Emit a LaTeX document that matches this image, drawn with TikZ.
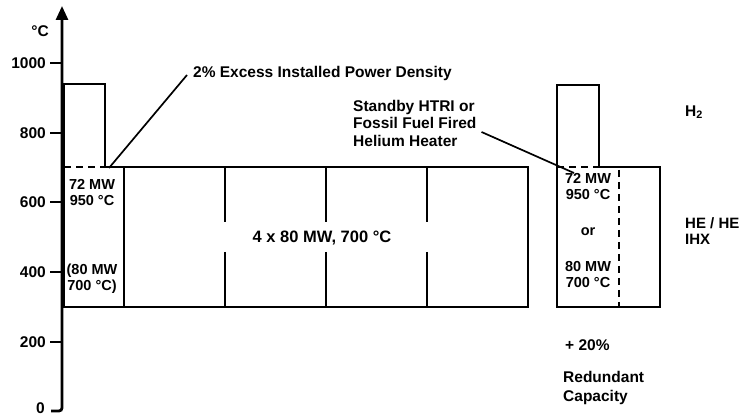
\documentclass[tikz,border=0pt]{standalone}
\usepackage{fontspec}
\setmainfont{Liberation Sans}
\usetikzlibrary{arrows.meta}
\begin{document}
\begin{tikzpicture}[x=1pt,y=-1pt,
  line/.style={line width=2.6pt},
  dline/.style={line width=2.6pt, dash pattern=on 7pt off 5pt},
  lbl/.style={font=\fontsize{15.5}{17.5}\selectfont\bfseries, inner sep=0pt},
  cell/.style={font=\fontsize{14.5}{16}\selectfont\bfseries, inner sep=0pt, align=center},
  lead/.style={line width=1.7pt}]
\useasboundingbox (0,0) rectangle (741,419);

% axis
\draw[line width=2.8pt, rounded corners=3pt, -{Triangle[width=12pt,length=14pt]}] (51,411) -- (62,411) -- (62,6);
\foreach \v/\yy in {1000/63,800/133,600/202,400/272,200/342}{
  \draw[line] (50,\yy) -- (62,\yy);
  \node[lbl, anchor=east] (t\v) at (46,\yy) {\v};
}
\node[lbl, anchor=east] (t0) at (45,408) {0};
\node[lbl] (unit) at (40,31) {°C};

% left tall box and cell
\draw[line] (64,167) -- (64,84) -- (105,84) -- (105,167);
\draw[dline] (64,167) -- (105,167);
\draw[line] (105,167) -- (124,167);
\draw[line] (64,167) -- (64,307) -- (124,307);
\node[cell] (lc1) at (92,193) {72 MW\\950 °C};
\node[cell] (lc2) at (92,279) {(80 MW\\700 °C)};

% main rectangle
\draw[line] (124,167) rectangle (528,307);
\foreach \xx in {225,326,427}{
  \draw[line] (\xx,167) -- (\xx,222) (\xx,252) -- (\xx,307);
}
\node[lbl, font=\fontsize{16.5}{18}\selectfont\bfseries] (main) at (322,238) {4 x 80 MW, 700 °C};

% excess label
\node[lbl, anchor=west] (excess) at (193,73) {2\% Excess Installed Power Density};
\coordinate (e1) at (109,168);
\draw[lead] (e1) -- ([xshift=-6pt,yshift=-2pt]excess.west);

% right group
\draw[line] (557,167) -- (557,85) -- (599,85) -- (599,167);
\draw[dline] (557,167) -- (599,167);
\draw[line] (599,167) -- (660,167) -- (660,307) -- (557,307) -- (557,167);
\draw[dline] (619,170) -- (619,307);
\node[cell] (rc1) at (588,187) {72 MW\\950 °C};
\node[cell] (rc2) at (588,232) {or};
\node[cell] (rc3) at (588,275) {80 MW\\700 °C};

% standby label
\node[lbl, anchor=west, align=left] (standby) at (353,123) {Standby HTRI or\\Fossil Fuel Fired\\Helium Heater};
\coordinate (s1) at (574,173);
\draw[lead] ([xshift=5pt,yshift=-9pt]standby.east) -- (s1);

% right labels
\node[lbl, anchor=west] (h2) at (685,112) {H\textsubscript{2}};
\node[lbl, anchor=west, align=left, font=\fontsize{15}{15.5}\selectfont\bfseries] (he) at (685,231) {HE / HE\\IHX};
\node[lbl, anchor=west] (pct) at (565,345) {+ 20\%};
\node[lbl, anchor=west, align=left, font=\fontsize{15.5}{19}\selectfont\bfseries] (red) at (563,388) {Redundant\\Capacity};
\end{tikzpicture}
\end{document}
